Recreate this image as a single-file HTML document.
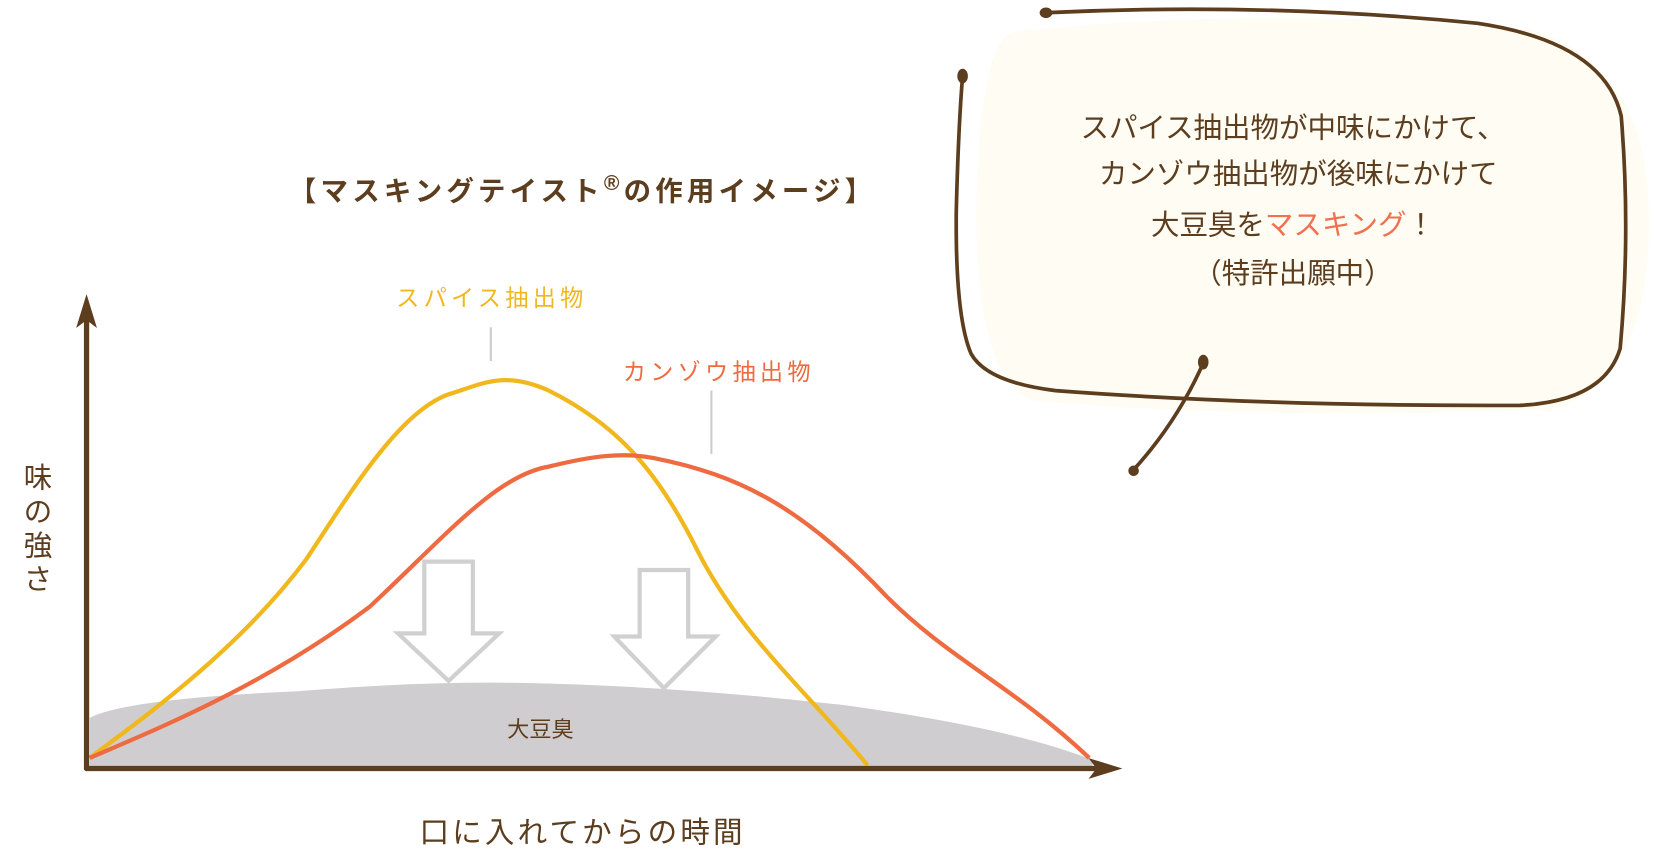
<!DOCTYPE html>
<html><head><meta charset="utf-8"><style>
html,body{margin:0;padding:0;background:#fff;width:1655px;height:853px;overflow:hidden}
svg{display:block}
text{font-family:"Liberation Sans","Noto Sans CJK JP",sans-serif}
</style></head><body>
<svg width="1655" height="853" viewBox="0 0 1568 808" xmlns="http://www.w3.org/2000/svg">
<!-- bubble -->
<path d="M960,30 Q1200,5 1450,28 Q1560,60 1562,200 Q1566,360 1470,388 Q1200,398 980,380 Q925,360 925,200 Q928,40 960,30Z" fill="#fffcf4"/>
<g fill="none" stroke="#5c3d1e" stroke-width="3.5" stroke-linecap="round">
<path d="M990,12 Q1200,2 1400,22 Q1520,40 1536,110 Q1545,220 1535,330 Q1520,380 1440,384 Q1200,385 1000,370 Q935,362 920,335 Q905,300 906,200 Q908,120 912,72"/>
<path d="M1140,344 Q1115,400 1074,445"/>
</g>
<g fill="#5c3d1e">
<ellipse cx="991" cy="12" rx="6" ry="5"/>
<ellipse cx="912" cy="72" rx="5" ry="7"/>
<ellipse cx="1140" cy="343" rx="5" ry="7"/>
<ellipse cx="1074" cy="446" rx="5" ry="5"/>
</g>
<g font-size="27" fill="#5c3d1e" text-anchor="middle">
<text x="1225" y="130">スパイス抽出物が中味にかけて、</text>
<text x="1230" y="174">カンゾウ抽出物が後味にかけて</text>
<text x="1225" y="222">大豆臭を<tspan fill="#f07050">マスキング</tspan>！</text>
<text x="1225" y="268">（特許出願中）</text>
</g>
<!-- title -->
<text x="552" y="190" font-size="26" font-weight="bold" fill="#5c3d1e" text-anchor="middle" letter-spacing="4">【マスキングテイスト<tspan font-size="20" dy="-10">®</tspan><tspan dy="10">の作用イメージ】</tspan></text>
<!-- blob -->
<path d="M85,728 L85,680 Q120,662 280,655 Q400,645 500,647 Q640,650 800,668 Q960,690 1035,720 L1035,728Z" fill="#cfcdcf"/>
<text x="512" y="698" font-size="21" fill="#5c3d1e" text-anchor="middle">大豆臭</text>
<!-- hollow arrows -->
<g fill="none" stroke="#d0d0d0" stroke-width="4">
<path d="M402,532 L448,532 L448,600 L473,600 L425,645 L377,600 L402,600Z"/>
<path d="M606,540 L652,540 L652,603 L678,603 L629,652 L582,603 L606,603Z"/>
</g>
<!-- curves -->
<path d="M85,718 C150,670 230,610 290,530 C330,470 380,385 430,372 C460,362 480,352 520,370 C580,400 620,440 660,520 C700,600 760,650 822,725" fill="none" stroke="#f0b81c" stroke-width="4"/>
<path d="M85,718 C150,690 250,650 350,575 C420,510 470,450 520,442 C560,432 590,428 620,434 C700,450 760,480 840,565 C900,625 960,650 1032,718" fill="none" stroke="#ee6a40" stroke-width="4"/>
<!-- labels -->
<text x="466" y="290" font-size="22" fill="#f0b81c" text-anchor="middle" letter-spacing="4">スパイス抽出物</text>
<line x1="465" y1="310" x2="465" y2="342" stroke="#cccccc" stroke-width="2"/>
<text x="681" y="360" font-size="22" fill="#ee6a40" text-anchor="middle" letter-spacing="4">カンゾウ抽出物</text>
<line x1="674" y1="370" x2="674" y2="430" stroke="#cccccc" stroke-width="2"/>
<!-- axes -->
<g stroke="#5c3d1e" stroke-width="5" fill="none" stroke-linecap="round">
<path d="M82,728 L82,290"/>
<path d="M82,728 L1052,728"/>
</g>
<path d="M82,282 L90,308 L82,302 L74,308Z" fill="#5c3d1e" stroke="#5c3d1e" stroke-width="2"/>
<path d="M1060,728 L1034,720 L1040,728 L1034,736Z" fill="#5c3d1e" stroke="#5c3d1e" stroke-width="2"/>
<g font-size="27" fill="#5c3d1e" text-anchor="middle">
<text x="36" y="462">味</text><text x="36" y="494">の</text><text x="36" y="526">強</text><text x="36" y="558">さ</text>
</g>
<text x="552" y="798" font-size="28" fill="#5c3d1e" text-anchor="middle" letter-spacing="3">口に入れてからの時間</text>
</svg>
</body></html>
